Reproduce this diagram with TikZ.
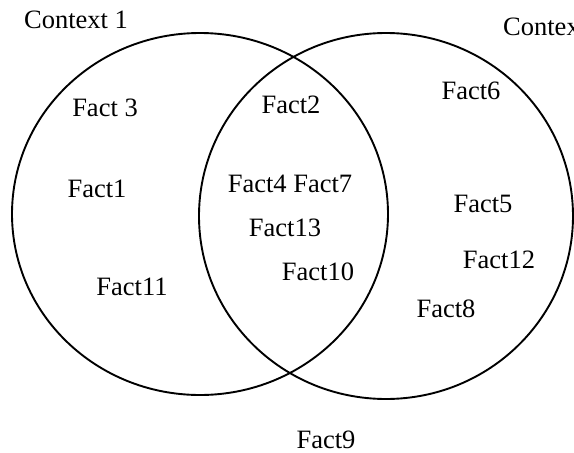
\documentclass[tikz,border=0pt]{standalone}
\usepackage{fontspec}
\setmainfont{Liberation Serif}
\tikzset{
  fact/.style={anchor=base, inner sep=0pt, font=\fontsize{26.5}{30}\selectfont},
  ctx/.style={line width=1.9pt}
}
\begin{document}
\begin{tikzpicture}[x=1pt,y=-1pt]
      \useasboundingbox (0,0) rectangle (574,453);
      \clip (0,0) rectangle (574,453);
      \draw[ctx] (200,214) ellipse [x radius=188pt, y radius=181pt];
      \draw[ctx] (386,216) ellipse [x radius=187pt, y radius=183pt];

      \node[fact] (C1) at (76,28) {Context 1};
      \node[fact, anchor=base west] (C2) at (503,35) {Context 2};

      \node[fact] (F3) at (105,116) {Fact 3};
      \node[fact] (F1) at (97,197) {Fact1};
      \node[fact] (F11) at (132,295) {Fact11};

      \node[fact] (F2) at (291,113) {Fact2};
      \node[fact] (F47) at (290,192) {Fact4 Fact7};
      \node[fact] (F13) at (285,236) {Fact13};
      \node[fact] (F10) at (318,280) {Fact10};

      \node[fact] (F6) at (471,99) {Fact6};
      \node[fact] (F5) at (483,212) {Fact5};
      \node[fact] (F12) at (499,268) {Fact12};
      \node[fact] (F8) at (446,317) {Fact8};

      \node[fact] (F9) at (326,448) {Fact9};
    \end{tikzpicture}
\end{document}
